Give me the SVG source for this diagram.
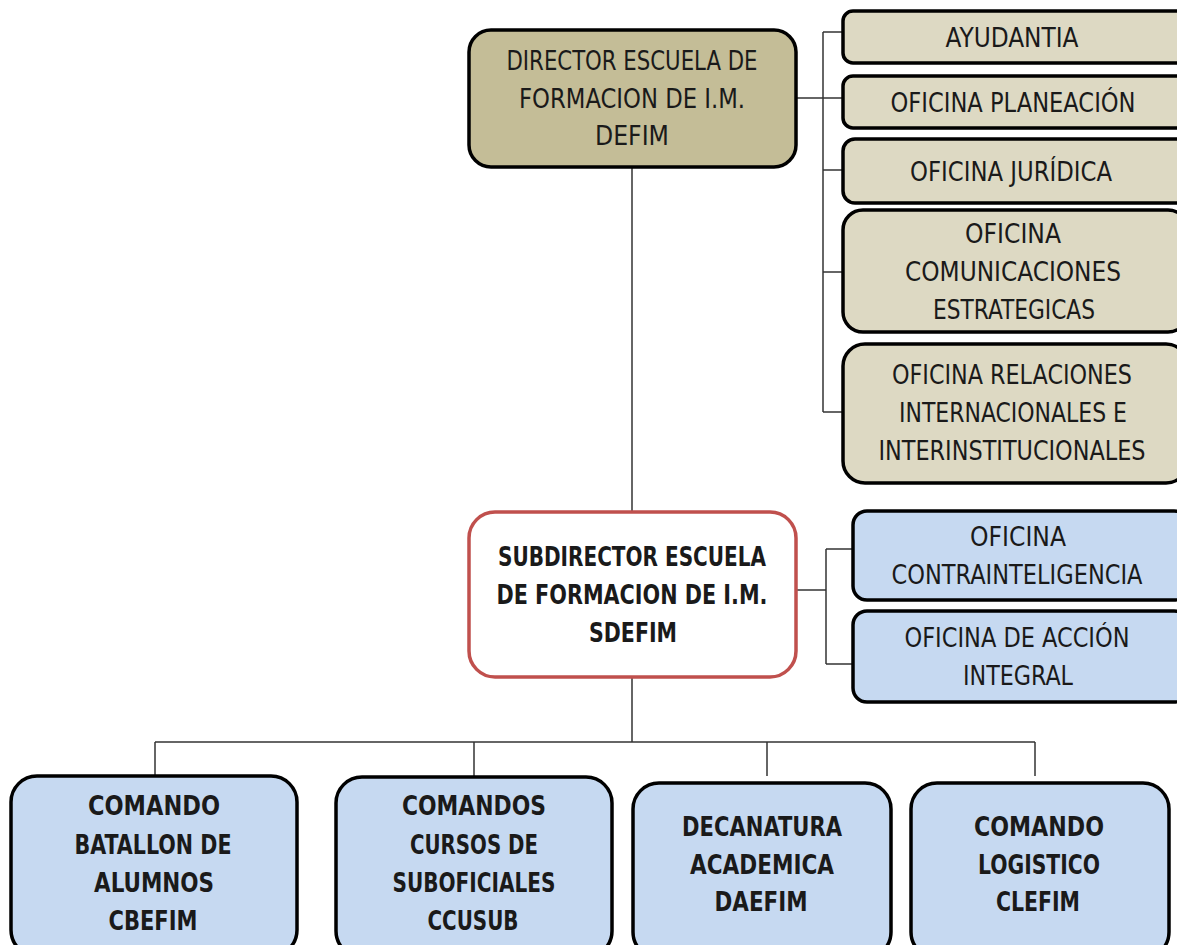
<svg xmlns="http://www.w3.org/2000/svg" width="1177" height="945" viewBox="0 0 1177 945">
<style>
.box{stroke:#000;stroke-width:3.5}
.dir{fill:#C4BD97}
.tan{fill:#DDD9C3}
.blue{fill:#C6D9F1}
.sub{fill:#fff;stroke:#C0504D;stroke-width:3.5}
.t{font-family:"Liberation Sans Narrow","DejaVu Sans Condensed","Liberation Sans",sans-serif;font-size:27px;fill:#1a1a1a;text-anchor:middle;dominant-baseline:central}
.b{font-weight:bold}
.conn{stroke:#333;stroke-width:1.5;fill:none}
</style>
<rect width="1177" height="945" fill="#fff"/>
<g id="connectors" class="conn">
<line x1="632" y1="167" x2="632" y2="512"/>
<line x1="797" y1="98" x2="823" y2="98"/>
<line x1="823" y1="32" x2="823" y2="412"/>
<line x1="823" y1="32" x2="843" y2="32"/>
<line x1="823" y1="98" x2="843" y2="98"/>
<line x1="823" y1="170" x2="843" y2="170"/>
<line x1="823" y1="272" x2="843" y2="272"/>
<line x1="823" y1="412" x2="843" y2="412"/>
<line x1="797" y1="590" x2="826" y2="590"/>
<line x1="826" y1="549" x2="826" y2="664"/>
<line x1="826" y1="549" x2="853" y2="549"/>
<line x1="826" y1="664" x2="853" y2="664"/>
<line x1="632" y1="678" x2="632" y2="742"/>
<line x1="155" y1="742" x2="1035" y2="742"/>
<line x1="155" y1="742" x2="155" y2="776"/>
<line x1="474" y1="742" x2="474" y2="776"/>
<line x1="767" y1="742" x2="767" y2="776"/>
<line x1="1035" y1="742" x2="1035" y2="776"/>
</g>
<g id="director">
<rect class="box dir" x="469" y="30" width="327" height="137" rx="22"/>
<text class="t" x="632" y="60" textLength="251" lengthAdjust="spacingAndGlyphs">DIRECTOR ESCUELA DE</text>
<text class="t" x="632" y="98" textLength="226" lengthAdjust="spacingAndGlyphs">FORMACION DE I.M.</text>
<text class="t" x="632" y="135" textLength="74" lengthAdjust="spacingAndGlyphs">DEFIM</text>
</g>
<g id="ayudantia">
<rect class="box tan" x="843" y="11" width="345" height="52" rx="10"/>
<text class="t" x="1012" y="37" textLength="133" lengthAdjust="spacingAndGlyphs">AYUDANTIA</text>
</g>
<g id="planeacion">
<rect class="box tan" x="843" y="76" width="345" height="52" rx="10"/>
<text class="t" x="1013" y="102" textLength="245" lengthAdjust="spacingAndGlyphs">OFICINA PLANEACIÓN</text>
</g>
<g id="juridica">
<rect class="box tan" x="843" y="139" width="345" height="64" rx="12"/>
<text class="t" x="1011" y="171" textLength="202" lengthAdjust="spacingAndGlyphs">OFICINA JURÍDICA</text>
</g>
<g id="comunicaciones">
<rect class="box tan" x="843" y="210" width="345" height="122" rx="20"/>
<text class="t" x="1013" y="233" textLength="96" lengthAdjust="spacingAndGlyphs">OFICINA</text>
<text class="t" x="1013" y="271" textLength="216" lengthAdjust="spacingAndGlyphs">COMUNICACIONES</text>
<text class="t" x="1014" y="309" textLength="162" lengthAdjust="spacingAndGlyphs">ESTRATEGICAS</text>
</g>
<g id="relaciones">
<rect class="box tan" x="843" y="344" width="345" height="139" rx="22"/>
<text class="t" x="1012" y="374" textLength="240" lengthAdjust="spacingAndGlyphs">OFICINA RELACIONES</text>
<text class="t" x="1013" y="412" textLength="228" lengthAdjust="spacingAndGlyphs">INTERNACIONALES E</text>
<text class="t" x="1012" y="450" textLength="267" lengthAdjust="spacingAndGlyphs">INTERINSTITUCIONALES</text>
</g>
<g id="subdirector">
<rect class="sub" x="469" y="512" width="327" height="165" rx="26"/>
<text class="t b" x="632" y="556" textLength="268" lengthAdjust="spacingAndGlyphs">SUBDIRECTOR ESCUELA</text>
<text class="t b" x="632" y="594" textLength="271" lengthAdjust="spacingAndGlyphs">DE FORMACION DE I.M.</text>
<text class="t b" x="633" y="632" textLength="88" lengthAdjust="spacingAndGlyphs">SDEFIM</text>
</g>
<g id="contrainteligencia">
<rect class="box blue" x="853" y="511" width="335" height="89" rx="14"/>
<text class="t" x="1018" y="536" textLength="96" lengthAdjust="spacingAndGlyphs">OFICINA</text>
<text class="t" x="1017" y="574" textLength="251" lengthAdjust="spacingAndGlyphs">CONTRAINTELIGENCIA</text>
</g>
<g id="accion-integral">
<rect class="box blue" x="853" y="611" width="335" height="91" rx="14"/>
<text class="t" x="1017" y="637" textLength="225" lengthAdjust="spacingAndGlyphs">OFICINA DE ACCIÓN</text>
<text class="t" x="1018" y="675" textLength="110" lengthAdjust="spacingAndGlyphs">INTEGRAL</text>
</g>
<g id="cbefim">
<rect class="box blue" x="11" y="776" width="286" height="180" rx="26"/>
<text class="t b" x="154" y="805" textLength="132" lengthAdjust="spacingAndGlyphs">COMANDO</text>
<text class="t b" x="153" y="844" textLength="157" lengthAdjust="spacingAndGlyphs">BATALLON DE</text>
<text class="t b" x="154" y="882" textLength="120" lengthAdjust="spacingAndGlyphs">ALUMNOS</text>
<text class="t b" x="153" y="920" textLength="89" lengthAdjust="spacingAndGlyphs">CBEFIM</text>
</g>
<g id="ccusub">
<rect class="box blue" x="336" y="777" width="276" height="180" rx="26"/>
<text class="t b" x="474" y="805" textLength="144" lengthAdjust="spacingAndGlyphs">COMANDOS</text>
<text class="t b" x="474" y="844" textLength="128" lengthAdjust="spacingAndGlyphs">CURSOS DE</text>
<text class="t b" x="474" y="882" textLength="163" lengthAdjust="spacingAndGlyphs">SUBOFICIALES</text>
<text class="t b" x="473" y="920" textLength="91" lengthAdjust="spacingAndGlyphs">CCUSUB</text>
</g>
<g id="daefim">
<rect class="box blue" x="633" y="783" width="258" height="175" rx="26"/>
<text class="t b" x="762" y="826" textLength="160" lengthAdjust="spacingAndGlyphs">DECANATURA</text>
<text class="t b" x="762" y="864" textLength="144" lengthAdjust="spacingAndGlyphs">ACADEMICA</text>
<text class="t b" x="761" y="901" textLength="93" lengthAdjust="spacingAndGlyphs">DAEFIM</text>
</g>
<g id="clefim">
<rect class="box blue" x="911" y="783" width="258" height="175" rx="26"/>
<text class="t b" x="1039" y="826" textLength="130" lengthAdjust="spacingAndGlyphs">COMANDO</text>
<text class="t b" x="1039" y="864" textLength="122" lengthAdjust="spacingAndGlyphs">LOGISTICO</text>
<text class="t b" x="1038" y="901" textLength="84" lengthAdjust="spacingAndGlyphs">CLEFIM</text>
</g>
</svg>
